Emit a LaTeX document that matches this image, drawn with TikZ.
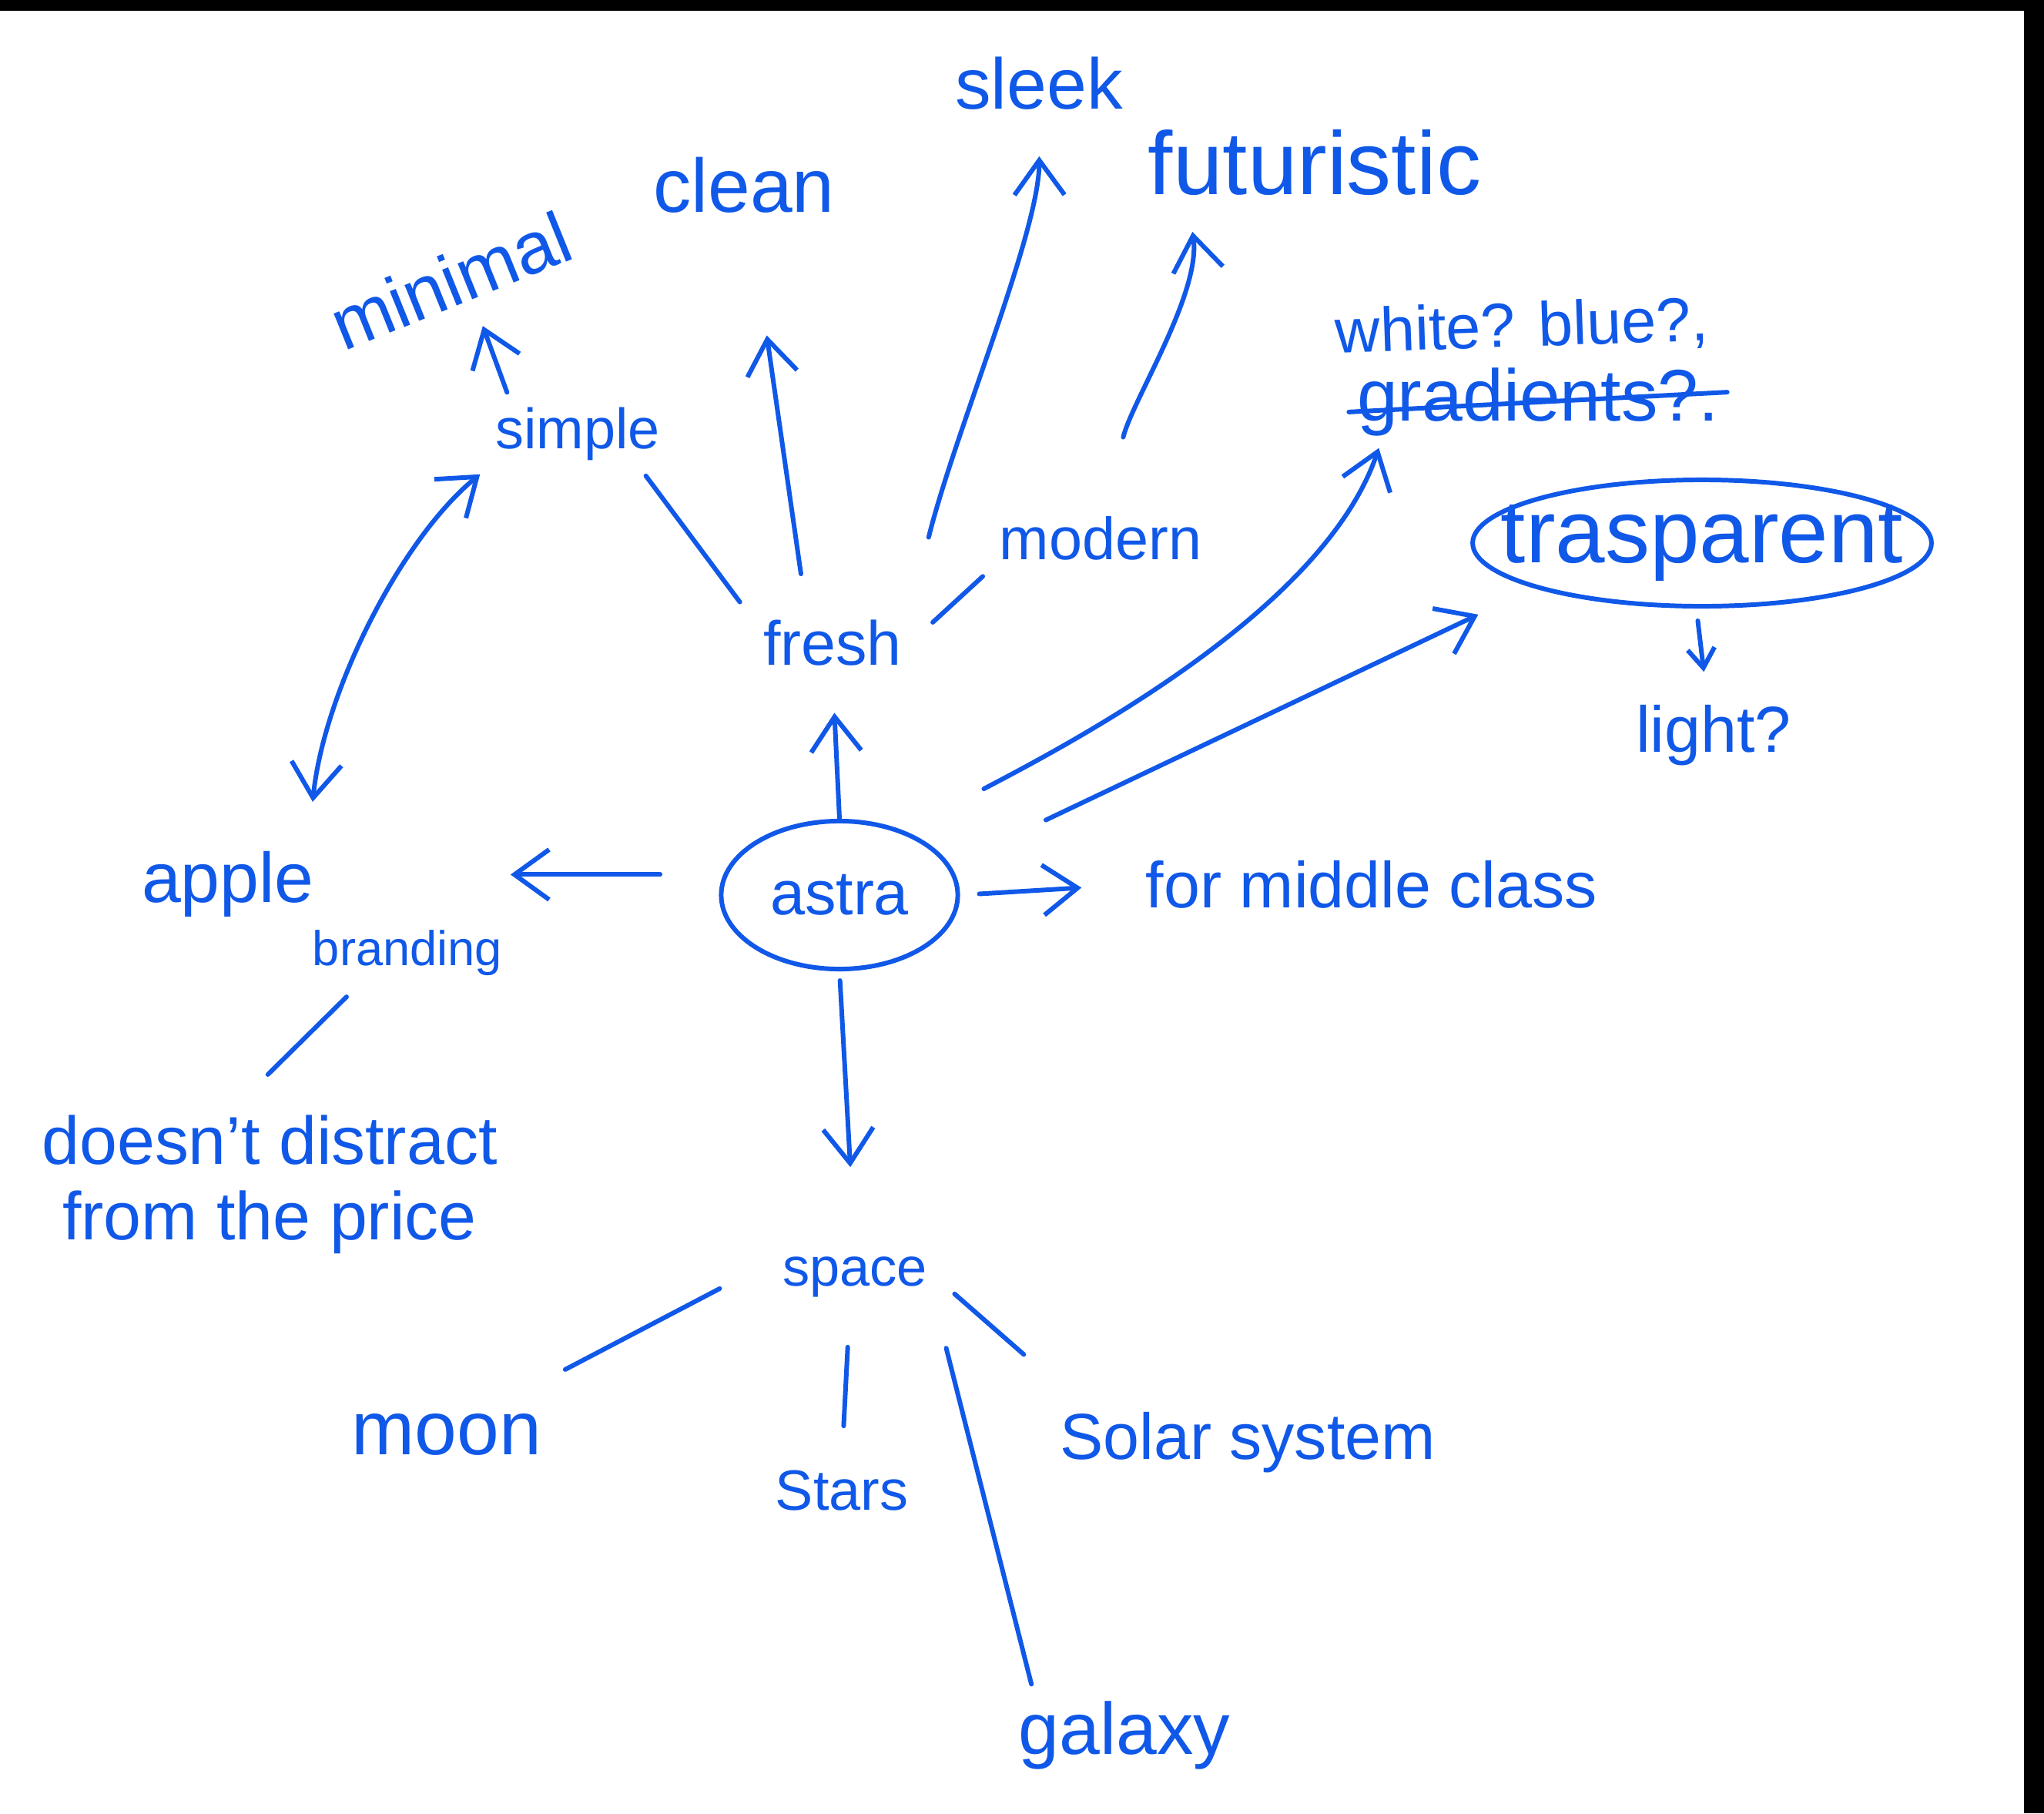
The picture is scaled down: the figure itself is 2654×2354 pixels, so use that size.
\documentclass[tikz,border=0pt]{standalone}
\usepackage{fontspec}
\setmainfont{Liberation Sans}
\usetikzlibrary{arrows.meta,shapes.geometric}
\definecolor{ink}{RGB}{16,88,232}
\tikzset{
  pen/.style={draw=ink, line width=1.7pt, line cap=round, line join=round},
  word/.style={text=ink, inner sep=1mm, font=\fontsize{#1}{28}\selectfont},
  bubble/.style={pen, ellipse, inner sep=0pt},
}

\begin{document}
\begin{tikzpicture}[x=0.01cm, y=-0.01cm, >={Straight Barb[length=4.5mm,width=6.5mm]}]
    \useasboundingbox (0,0) rectangle (2654,2354);
    % dark edges of the scan
    \fill[black] (0,0) rectangle (2654,14);
    \fill[black] (2628,0) rectangle (2654,2354);

    % centre word
    \node[word=23, bubble, minimum width=3.07cm, minimum height=1.92cm] (astra) at (1090,1162) {astra};

    % upper words
    \node[word=23] (fresh) at (1081,835) {fresh};
    \node[word=21] (simple) at (750,563) {simple};
    \node[word=27, rotate=22] (minimal) at (585,364) {minimal};
    \node[word=28] (clean) at (966,240) {clean};
    \node[word=26.5] (sleek) at (1349,108) {sleek};
    \node[word=33] (futur) at (1707,211) {futuristic};
    \node[word=22] (modern) at (1429,699) {modern};
    \node[word=23, rotate=2] (white) at (1976,426) {white? blue?,};
    \node[word=27] (grad) at (1997,522) {gradients?.};
    \node[word=33, bubble, minimum height=1.64cm] (transp) at (2210,705) {\makebox[4.21cm]{trasparent}};
    \node[word=24] (light) at (2225,955) {light?};
    \node[word=24] (middle) at (1781,1148) {for middle class};

    % left words
    \node[word=26] (apple) at (296,1148) {apple};
    \node[word=18] (brand) at (529,1237) {branding};
    \node[word=25, align=center] (doesnt) at (350,1538) {doesn't distract\\from the price};

    % lower words
    \node[word=20] (space) at (1110,1658) {space};
    \node[word=28] (moon) at (580,1862) {moon};
    \node[word=21] (stars) at (1093,1935) {Stars};
    \node[word=24] (solar) at (1620,1873) {Solar system};
    \node[word=27] (galaxy) at (1460,2253) {galaxy};

    % out of astra
    \draw[pen, ->, shorten >=5mm] (astra.north) -- (fresh.south);
    \draw[pen, ->, shorten <=8.2mm] (astra.170) -- (astra.170 -| brand.east);
    \draw[pen, ->, shorten <=2.5mm, shorten >=7.3mm] (astra.east) -- (middle.west);
    \draw[pen, ->, shorten <=1.2mm, shorten >=10.6mm] (astra.south) -- (space.north);
    \draw[pen, ->, shorten <=13.7mm, shorten >=8mm] (astra.15) -- (transp.195);
    \draw[pen, ->, shorten <=11.7mm, shorten >=0.5mm] (astra.45) .. controls (1400,960) and (1720,790) .. (grad.195);

    % around fresh
    \draw[pen, ->, shorten <=5mm, shorten >=15mm] (fresh.130) -- (clean.-80);
    \draw[pen, shorten <=1.2mm, shorten >=3.3mm] (simple.-29) -- (fresh.165);
    \draw[pen, ->, shorten <=10mm, shorten >=5mm] (fresh.north east) .. controls (1240,560) and (1350,300) .. (sleek.south);
    \draw[pen, shorten <=4mm, shorten >=1.5mm] (fresh.east) -- (modern.south west);
    \draw[pen, ->, shorten <=9.5mm, shorten >=3.7mm] (modern.80) .. controls (1470,520) and (1560,380) .. (futur.198);

    % around simple
    \draw[pen, ->, shorten <=0.9mm, shorten >=2.5mm] (simple.153) -- (minimal.-69);
    \draw[pen, <->, shorten <=5.4mm, shorten >=1.2mm] (apple.27) .. controls (420,900) and (520,700) .. (simple.south west);

    % colours, crossed out
    \draw[pen] (grad.183) -- (grad.3);
    \draw[pen, -{Straight Barb[length=2.5mm,width=3.5mm]}, shorten <=1.6mm, shorten >=3.3mm] (transp.-95) -- (light.100);

    % branding
    \draw[pen, shorten <=2.4mm, shorten >=6mm] (brand.213) -- (doesnt.114);

    % space
    \draw[pen, shorten <=8mm, shorten >=10mm] (space.168) -- (moon.30);
    \draw[pen, shorten <=5.4mm, shorten >=4.7mm] (space.-100) -- (stars.north);
    \draw[pen, shorten <=5.7mm, shorten >=1.2mm] (space.south east) -- (galaxy.155);
    \draw[pen, shorten <=3.3mm, shorten >=9.8mm] (space.east) -- (solar.167);
\end{tikzpicture}
\end{document}
